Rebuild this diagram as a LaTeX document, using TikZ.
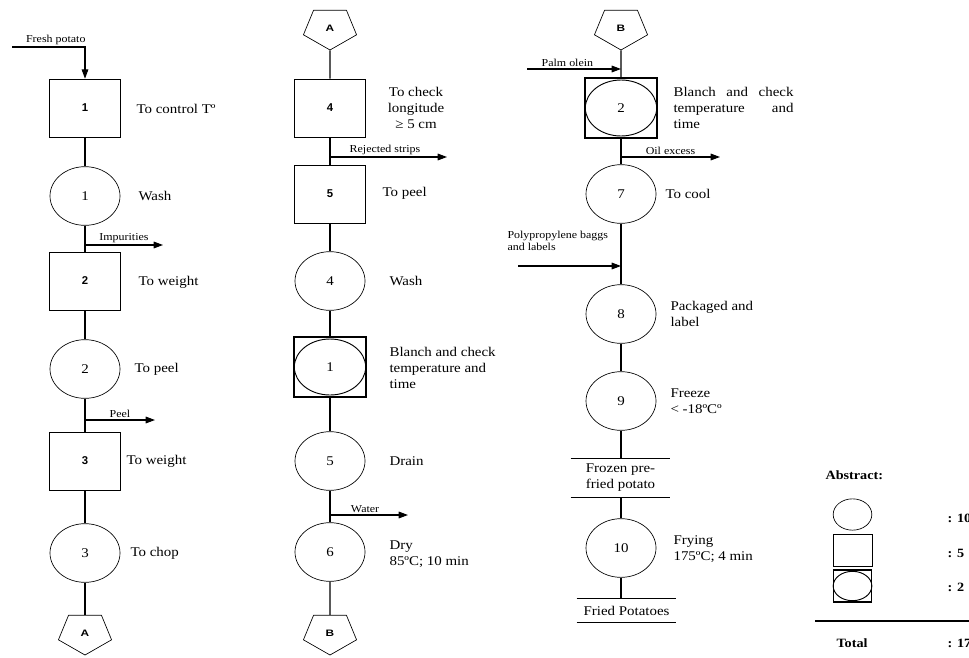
\documentclass[tikz,border=0pt]{standalone}
\usepackage{fontspec}
\setmainfont[FakeStretch=1.12]{Liberation Serif}
\setsansfont{Liberation Sans}
\usetikzlibrary{arrows.meta,shapes.geometric}

\begin{document}
\begin{tikzpicture}[x=0.75pt,y=-0.75pt,line width=0.8pt]
\tikzstyle{every node}=[inner sep=0pt, font=\fontsize{10}{12}\selectfont]
\tikzstyle{opbox}=[draw, line width=0.5pt, minimum width=53pt, minimum height=43.5pt, font=\sffamily\bfseries\fontsize{8.5}{9}\selectfont]
\tikzstyle{opell}=[draw, ellipse, line width=0.5pt, minimum width=52.5pt, minimum height=44pt, font=\fontsize{10}{11}\selectfont]
\tikzstyle{combo}=[draw, line width=0.9pt, minimum width=54pt, minimum height=45pt]
\tikzstyle{inell}=[draw, ellipse, line width=0.7pt, minimum width=53.5pt, minimum height=42pt, font=\fontsize{10}{11}\selectfont]
\tikzstyle{link}=[draw, line width=0.5pt, regular polygon, regular polygon sides=5, shape border rotate=180, minimum size=33pt, xscale=1.27, transform shape, font=\sffamily\bfseries\fontsize{7}{8}\selectfont]
\tikzstyle{bar}=[minimum width=74pt, align=left]
\tikzstyle{lab}=[font=\fontsize{8}{9}\selectfont, above=1.5pt]
\tikzstyle{arr}=[-{Triangle[length=7pt,width=5pt]}]
\tikzstyle{legend}=[font=\bfseries\fontsize{9.5}{11}\selectfont, anchor=west]
\useasboundingbox (0,0) rectangle (969,657);
% first column
\draw (85,108) node (b1) [opbox] {1};
\draw (85,196) node (e1) [opell] {1};
\draw (85,281) node (b2) [opbox] {2};
\draw (85,369) node (e2) [opell] {2};
\draw (85,461) node (b3) [opbox] {3};
\draw (85,553) node (e3) [opell] {3};
\draw (85,633) node (pA1) [link] {A};
\draw (136,109) node (t1) [anchor=west] {To control Tº};
\draw (138,196) node (t2) [anchor=west] {Wash};
\draw (138,282) node (t3) [anchor=west] {To weight};
\draw (134,369) node (t4) [anchor=west] {To peel};
\draw (126,461) node (t5) [anchor=west] {To weight};
\draw (130,553) node (t6) [anchor=west] {To chop};
\coordinate (fp0) at (12,47);
\draw[arr] (fp0) -| node[lab, pos=0.3] {Fresh potato} (b1);
\draw (b1) -- (e1);
\draw (e1) -- (b2);
\draw (b2) -- (e2);
\draw (e2) -- (b3);
\draw (b3) -- (e3);
\draw (e3) -- (pA1);
\coordinate (j1) at (85,245);
\coordinate (j1e) at (163,245);
\draw[arr] (j1) -- node[lab] {Impurities} (j1e);
\coordinate (j2) at (85,420);
\coordinate (j2e) at (155,420);
\draw[arr] (j2) -- node[lab] {Peel} (j2e);
% second column
\draw (330,28) node (pA2) [link] {A};
\draw (330,108) node (b4) [opbox] {4};
\draw (330,194) node (b5) [opbox] {5};
\draw (330,281) node (e4) [opell] {4};
\draw (330,367) node (cb1) [combo] {};
\draw (cb1) node (ci1) [inell] {1};
\draw (330,461) node (e5) [opell] {5};
\draw (330,552) node (e6) [opell] {6};
\draw (330,633) node (pB2) [link] {B};
\draw (416,108) node (t7) [align=center] {To check\\longitude\\≥ 5 cm};
\draw (382,193) node (t8) [anchor=west] {To peel};
\draw (389,281) node (t9) [anchor=west] {Wash};
\draw (389,368) node (t10) [anchor=west, align=left] {Blanch and check\\temperature and\\time};
\draw (389,461) node (t11) [anchor=west] {Drain};
\draw (389,554) node (t12) [anchor=west, align=left] {Dry\\85ºC; 10 min};
\draw (pA2) -- (b4);
\draw (b4) -- (b5);
\draw (b5) -- (e4);
\draw (e4) -- (cb1);
\draw (cb1) -- (e5);
\draw (e5) -- (e6);
\draw (e6) -- (pB2);
\coordinate (j3) at (330,157);
\coordinate (j3e) at (447,157);
\draw[arr] (j3) -- node[lab, pos=0.47] {Rejected strips} (j3e);
\coordinate (j4) at (330,515);
\coordinate (j4e) at (408,515);
\draw[arr] (j4) -- node[lab, pos=0.45] {Water} (j4e);
% third column
\draw (621,28) node (pB3) [link] {B};
\draw (621,108) node (cb2) [combo] {};
\draw (cb2) node (ci2) [inell] {2};
\draw (621,194) node (e7) [opell] {7};
\draw (621,314) node (e8) [opell] {8};
\draw (621,401) node (e9) [opell] {9};
\draw (620.5,478) node (fz) [bar, minimum height=28.5pt] {Frozen pre-\\fried potato};
\draw (621,548) node (e10) [opell] {10};
\draw (626.5,610.5) node (fd) [bar, minimum height=17pt, align=center] {Fried Potatoes};
\draw (673,108) node (t13) [anchor=west, text width=90pt, align=justify] {Blanch and check\linebreak temperature and\linebreak time};
\draw (665,194) node (t14) [anchor=west] {To cool};
\draw (670,314) node (t15) [anchor=west, align=left] {Packaged and\\label};
\draw (670,401) node (t16) [anchor=west, align=left] {Freeze\\< -18ºCº};
\draw (673,549) node (t17) [anchor=west, align=left] {Frying\\175ºC; 4 min};
\draw (507,241) node (t18) [anchor=west, align=left, font=\fontsize{8}{9}\selectfont] {Polypropylene baggs\\and labels};
\draw (pB3) -- (cb2);
\draw (cb2) -- (e7);
\draw (e7) -- (e8);
\draw (e8) -- (e9);
\draw (e9) -- (e9 |- fz.north);
\draw (fz.north west) -- (fz.north east);
\draw (fz.south west) -- (fz.south east);
\draw (fz.south -| e10) -- (e10);
\draw (e10) -- (e10 |- fd.north);
\draw (fd.north west) -- (fd.north east);
\draw (fd.south west) -- (fd.south east);
\coordinate (j5) at (527,69);
\coordinate (j5e) at (621,69);
\draw[arr] (j5) -- node[lab, pos=0.43] {Palm olein} (j5e);
\coordinate (j6) at (621,157);
\coordinate (j6e) at (720,157);
\draw[arr] (j6) -- node[lab] {Oil excess} (j6e);
\coordinate (j7) at (518,266);
\coordinate (j7e) at (621,266);
\draw[arr] (j7) -- (j7e);
% legend
\draw (825,475) node (ab) [legend] {Abstract:};
\draw (852.5,514.5) node (le) [opell, minimum width=29pt, minimum height=23.5pt] {};
\draw (852.5,550) node (ls) [opbox, minimum width=29pt, minimum height=24pt] {};
\draw (852.5,586) node (lc) [combo, minimum width=29pt, minimum height=24pt] {};
\draw (lc) node (lci) [inell, minimum width=29pt, minimum height=22pt] {};
\draw (947,518) node (n1) [legend] {: 10};
\draw (947,553) node (n2) [legend] {: 5};
\draw (947,587) node (n3) [legend] {: 2};
\draw (815,621) -- (975,621);
\draw (836,643) node (tot) [legend] {Total};
\draw (947,643) node (n4) [legend] {: 17};
\end{tikzpicture}
\end{document}
